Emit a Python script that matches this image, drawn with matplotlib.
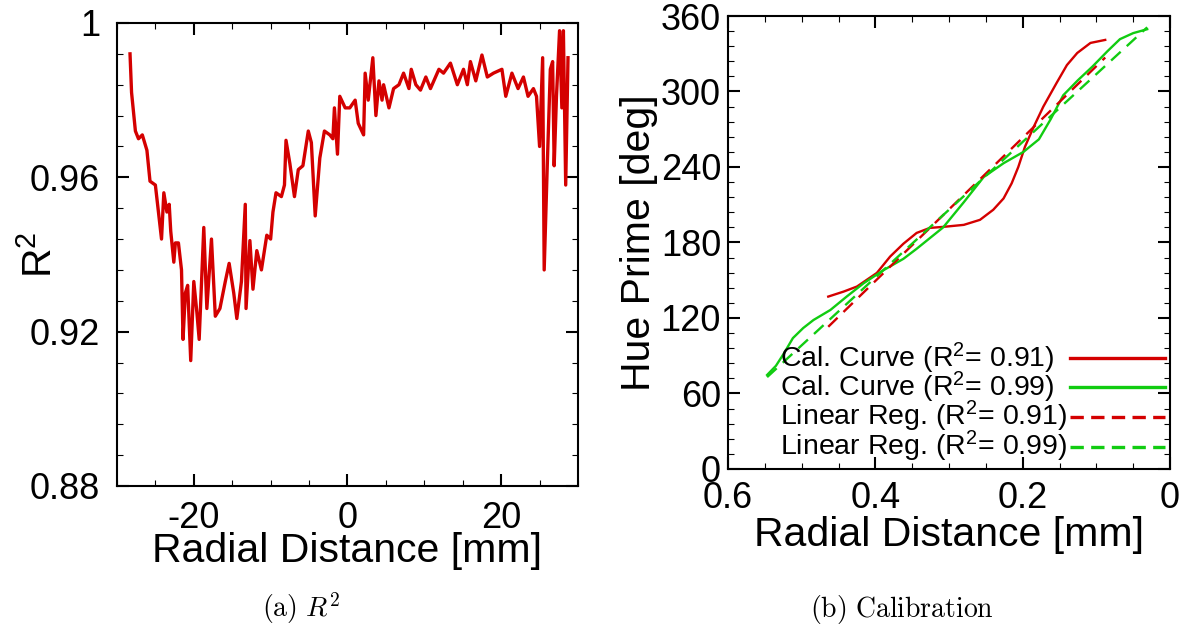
import matplotlib
matplotlib.use("Agg")
import matplotlib.pyplot as plt
from matplotlib.ticker import MultipleLocator

plt.rcParams['font.family'] = ['Liberation Sans', 'DejaVu Sans']
plt.rcParams['mathtext.fontset'] = 'custom'
plt.rcParams['mathtext.rm'] = 'Liberation Sans'
plt.rcParams['mathtext.it'] = 'Liberation Sans:italic'
plt.rcParams['axes.unicode_minus'] = False

# (a) R^2 across the radius
r2_x = [-28.3, -28.1, -27.6, -27.2, -26.7, -26.1, -25.7, -25.0, -24.6, -24.2,
        -23.9, -23.5, -23.2, -23.0, -22.6, -22.4, -22.0, -21.6, -21.4, -21.1,
        -20.8, -20.4, -20.0, -19.6, -19.3, -18.7, -18.3, -17.7, -17.2, -16.6,
        -15.9, -15.4, -14.8, -14.4, -13.8, -13.3, -13.2, -12.7, -12.3, -11.8,
        -11.2, -10.5, -10.0, -9.7, -9.3, -8.6, -8.2, -8.0, -7.5, -6.9,
        -6.4, -5.8, -5.1, -4.7, -4.2, -3.6, -3.0, -2.3, -1.9, -1.7,
        -1.3, -1.0, -0.3, 0.3, 1.0, 1.4, 2.1, 2.3, 2.7, 3.3,
        3.7, 4.1, 4.5, 4.7, 5.4, 6.0, 6.7, 7.3, 8.0, 8.3,
        8.9, 9.5, 10.2, 10.8, 11.9, 12.5, 13.4, 14.3, 15.1, 15.6,
        16.0, 16.7, 17.5, 18.2, 19.0, 20.1, 20.6, 21.4, 22.2, 22.9,
        23.5, 24.2, 24.6, 25.0, 25.4, 25.6, 26.0, 26.4, 26.7, 26.9,
        27.2, 27.6, 27.9, 28.1, 28.4, 28.7]
r2_y = [0.992, 0.982, 0.972, 0.970, 0.971, 0.967, 0.959, 0.958, 0.951, 0.944,
        0.956, 0.951, 0.953, 0.946, 0.938, 0.943, 0.943, 0.936, 0.918, 0.930,
        0.932, 0.9125, 0.933, 0.925, 0.918, 0.947, 0.926, 0.944, 0.924, 0.926,
        0.933, 0.9377, 0.930, 0.9234, 0.933, 0.953, 0.926, 0.9436, 0.931, 0.941,
        0.936, 0.945, 0.944, 0.951, 0.956, 0.955, 0.958, 0.9696, 0.9636, 0.955,
        0.962, 0.963, 0.972, 0.969, 0.950, 0.965, 0.972, 0.971, 0.970, 0.978,
        0.966, 0.981, 0.978, 0.978, 0.980, 0.974, 0.971, 0.987, 0.980, 0.991,
        0.976, 0.985, 0.980, 0.984, 0.978, 0.983, 0.984, 0.987, 0.983, 0.988,
        0.984, 0.9826, 0.986, 0.983, 0.988, 0.987, 0.9896, 0.984, 0.988, 0.984,
        0.990, 0.985, 0.9917, 0.986, 0.987, 0.988, 0.981, 0.987, 0.983, 0.986,
        0.981, 0.983, 0.981, 0.968, 0.991, 0.936, 0.963, 0.988, 0.990, 0.963,
        0.981, 0.998, 0.978, 0.998, 0.958, 0.991]

# (b) calibration curves
cal91_x = [0.464, 0.443, 0.425, 0.398, 0.380, 0.362, 0.344, 0.326, 0.308, 0.280,
           0.258, 0.240, 0.226, 0.215, 0.206, 0.197, 0.185, 0.172, 0.154, 0.140,
           0.126, 0.108, 0.088]
cal91_y = [137, 141, 145, 155.8, 168.8, 179, 187.6, 191.6, 192.4, 194,
           198, 206, 215, 227, 240, 256, 272, 288, 306.8, 321,
           330.6, 338.6, 341]
cal99_x = [0.547, 0.535, 0.524, 0.512, 0.498, 0.484, 0.461, 0.439, 0.416, 0.389,
           0.362, 0.344, 0.308, 0.280, 0.253, 0.226, 0.199, 0.178, 0.162, 0.145,
           0.125, 0.105, 0.085, 0.068, 0.050, 0.031]
cal99_y = [74.7, 82, 92, 104, 112, 118.4, 126.4, 137, 147.6, 158,
           167, 175, 192, 212, 232, 243, 252, 262, 278, 297,
           309, 320, 332, 341.6, 346.4, 349.5]
lin91_x = [0.464, 0.088]
lin91_y = [113, 327]
lin99_x = [0.547, 0.031]
lin99_y = [73, 351]

labels = ['Cal. Curve (R$^2$= 0.91)', 'Cal. Curve (R$^2$= 0.99)',
          'Linear Reg. (R$^2$= 0.91)', 'Linear Reg. (R$^2$= 0.99)']

red = '#d40000'
green = '#11cc11'


def style_axes(ax, xpad, ypad):
    for s in ax.spines.values():
        s.set_linewidth(1.5)
    ax.tick_params(which='both', direction='in', top=True, right=True)
    ax.tick_params(which='major', length=8.5, width=1.5, labelsize=26)
    ax.tick_params(which='minor', length=4.5, width=0.8)
    ax.tick_params(axis='x', pad=xpad)
    ax.tick_params(axis='y', pad=ypad)


fig = plt.figure(figsize=(11.91, 6.30), dpi=100)

ax1 = fig.add_axes([0.0982, 0.2286, 0.3871, 0.7349])
ax1.plot(r2_x, r2_y, color=red, lw=2.4)
ax1.set_xlim(-30, 30)
ax1.set_ylim(0.88, 1.0)
ax1.xaxis.set_major_locator(MultipleLocator(20))
ax1.xaxis.set_minor_locator(MultipleLocator(5))
ax1.yaxis.set_minor_locator(MultipleLocator(0.008))
ax1.set_yticks([0.88, 0.92, 0.96, 1.0])
ax1.set_yticklabels(['0.88', '0.92', '0.96', '1'])
style_axes(ax1, 11, 12)
ax1.set_xlabel('Radial Distance [mm]', fontsize=29.5, labelpad=-3)
ax1.set_ylabel('R$^2$', fontsize=29.5)
ax1.yaxis.set_label_coords(-0.125, 0.5)

ax2 = fig.add_axes([0.6113, 0.2556, 0.3711, 0.7190])
ax2.plot(cal91_x, cal91_y, color=red, lw=1.7)
ax2.plot(cal99_x, cal99_y, color=green, lw=1.7)
ax2.plot(lin91_x, lin91_y, color=red, lw=1.7, dashes=(5.5, 3.5))
ax2.plot(lin99_x, lin99_y, color=green, lw=1.7, dashes=(5.5, 3.5))
ax2.set_xlim(0.6, 0.0)
ax2.set_ylim(0, 360)
ax2.xaxis.set_minor_locator(MultipleLocator(0.05))
ax2.yaxis.set_major_locator(MultipleLocator(60))
ax2.yaxis.set_minor_locator(MultipleLocator(12))
ax2.set_xticks([0.6, 0.4, 0.2, 0.0])
ax2.set_xticklabels(['0.6', '0.4', '0.2', '0'])
style_axes(ax2, 9, 5)
ax2.set_xlabel('Radial Distance [mm]', fontsize=29.5, labelpad=0)
ax2.set_ylabel('Hue Prime [deg]', fontsize=29.5, labelpad=2)

# legend drawn by hand: text left-aligned, line samples on the right
key_colors = [red, green, red, green]
key_dashed = [False, False, True, True]
key_rows = [0.245, 0.181, 0.115, 0.049]
for lab, c, d, yk in zip(labels, key_colors, key_dashed, key_rows):
    ax2.text(0.118, yk, lab, transform=ax2.transAxes, fontsize=20.5,
             ha='left', va='center')
    ln, = ax2.plot([0.774, 0.989], [yk, yk], transform=ax2.transAxes,
                   color=c, lw=2.4, clip_on=False)
    if d:
        ln.set_dashes((4, 2.2))

fig.text(301 / 1191, 1 - 617 / 630, r'$\mathrm{(a)}\ R^2$', fontsize=20,
         ha='center', va='baseline', math_fontfamily='cm')
fig.text(902 / 1191, 1 - 617 / 630, r'$\mathrm{(b)\ Calibration}$', fontsize=20,
         ha='center', va='baseline', math_fontfamily='cm')

fig.savefig('out.png', dpi=100)
